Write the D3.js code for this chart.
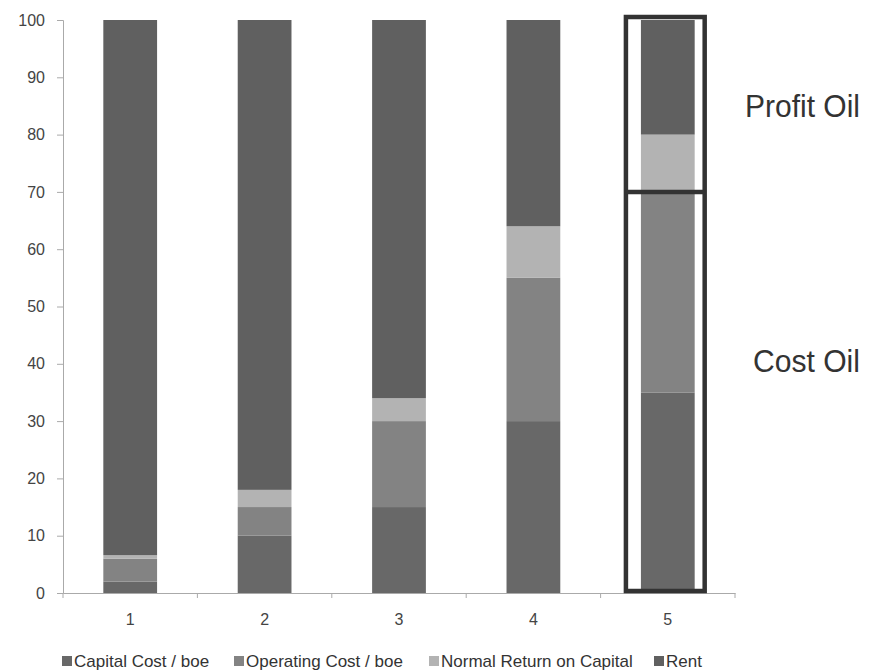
<!DOCTYPE html>
<html><head><meta charset="utf-8">
<script src="https://cdn.jsdelivr.net/npm/d3@7"></script>
<style>body{margin:0;background:#fff;}svg{display:block;font-family:"Liberation Sans",Arial,sans-serif;}</style>
</head><body><svg id="c" width="880" height="672"></svg>
<script>
const categories = ["1","2","3","4","5"];
const seriesNames = ["Capital Cost / boe","Operating Cost / boe","Normal Return on Capital","Rent"];
const capital = [2, 10, 15, 30, 35];
const operating = [4, 5, 15, 25, 35];
const normalReturn = [0.6, 3, 4, 9, 10];
const rent = [93.4, 82, 66, 36, 20];
const yTicks = [0,10,20,30,40,50,60,70,80,90,100];
const colors = ["#686868","#838383","#b3b3b3","#606060"];
const boxLabels = ["Profit Oil","Cost Oil"];
const boxSplit = 70;

const svg = d3.select("#c");
const m = {l:63, r:145, t:20, b:79};
const W = 880, H = 672;
const x = d3.scaleBand().domain(categories).range([m.l, W - m.r]).paddingInner(0.6).paddingOuter(0.3);
const y = d3.scaleLinear().domain([0,100]).range([H - m.b, m.t]);

const rows = categories.map((c,i)=>({cat:c, s0:capital[i], s1:operating[i], s2:normalReturn[i], s3:rent[i]}));
const stack = d3.stack().keys(["s0","s1","s2","s3"])(rows);

svg.append("g").selectAll("g").data(stack).join("g")
  .attr("fill",(d,i)=>colors[i])
  .selectAll("rect").data(d=>d).join("rect")
  .attr("x",d=>x(d.data.cat))
  .attr("width",x.bandwidth())
  .attr("y",d=>y(d[1]))
  .attr("height",d=>y(d[0])-y(d[1]));

// y axis
const ya = svg.append("g").attr("transform",`translate(${m.l},0)`)
  .call(d3.axisLeft(y).tickValues(yTicks).tickSize(6).tickPadding(12));
ya.select(".domain").attr("stroke","#aaa");
ya.selectAll(".tick line").attr("stroke","#aaa");
ya.selectAll("text").attr("fill","#444").style("font-size","16px");

// x axis
const xa = svg.append("g").attr("transform",`translate(0,${y(0)})`)
  .call(d3.axisBottom(x).tickSize(0).tickPadding(21));
xa.select(".domain").attr("stroke","#aaa");
xa.selectAll("text").attr("fill","#444").style("font-size","16px");
// boundary ticks
const bounds = d3.range(categories.length+1).map(i=> m.l + i*(W - m.r - m.l)/categories.length);
svg.append("g").selectAll("line").data(bounds).join("line")
  .attr("x1",d=>d).attr("x2",d=>d).attr("y1",y(0)).attr("y2",y(0)+5)
  .attr("stroke","#aaa");

// boxes around last bar
const last = categories[categories.length-1];
const bx0 = x(last) - 15, bx1 = x(last) + x.bandwidth() + 10;
svg.append("rect").attr("x",bx0).attr("y",y(100)-3).attr("width",bx1-bx0).attr("height",y(0)-y(100)+1)
  .attr("fill","none").attr("stroke","#333").attr("stroke-width",4.5);
svg.append("line").attr("x1",bx0).attr("x2",bx1).attr("y1",y(boxSplit)).attr("y2",y(boxSplit))
  .attr("stroke","#333").attr("stroke-width",4.5);

svg.append("text").attr("x",745).attr("y",117).text(boxLabels[0])
  .attr("fill","#333").style("font-size","31px")
  .attr("textLength",115).attr("lengthAdjust","spacingAndGlyphs");
svg.append("text").attr("x",753).attr("y",372).text(boxLabels[1])
  .attr("fill","#333").style("font-size","31px")
  .attr("textLength",107).attr("lengthAdjust","spacingAndGlyphs");

// legend
const lg = svg.append("g").attr("transform","translate(62,667)");
const legX = [0,172,367,592];
seriesNames.forEach((n,i)=>{
  const g = lg.append("g").attr("transform",`translate(${legX[i]},0)`);
  g.append("rect").attr("x",0).attr("y",-11).attr("width",10).attr("height",10).attr("fill",colors[i]);
  g.append("text").attr("x",12).attr("y",0).text(n).attr("fill","#333").style("font-size","17px");
});
</script></body></html>
